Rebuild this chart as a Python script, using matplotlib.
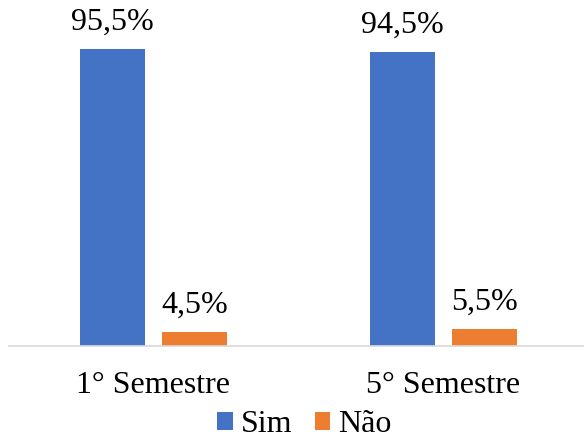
import matplotlib
matplotlib.use('Agg')
from matplotlib import pyplot as plt
import numpy as np

categories = ['1° Semestre', '5° Semestre']
sim = [95.5, 94.5]
nao = [4.5, 5.5]
series_names = ['Sim', 'Não']
colors = ['#4472C4', '#ED7D31']

plt.rcParams['font.family'] = ['Liberation Serif', 'DejaVu Serif']

fig = plt.figure(figsize=(5.84, 4.41), dpi=100)
W, H = 584, 441
# axes in pixels: left 8.5, right 584, bottom baseline at y=346, top at y=0
left_px, right_px, base_px = 8.5, 584, 346
ax = fig.add_axes([left_px / W, (H - base_px) / H, (right_px - left_px) / W, base_px / H])

x = np.arange(len(categories))
width = 0.224
offset = 0.1414
b1 = ax.bar(x - offset, sim, width, color=colors[0], label=series_names[0])
b2 = ax.bar(x + offset, nao, width, color=colors[1], label=series_names[1])

unit = 290.0
ax.set_xlim(-(153.5 - left_px) / unit, (right_px - 153.5) / unit)
ax.set_ylim(0, base_px / (297 / 95.5))

for bars in (b1, b2):
  for rect in bars:
    v = rect.get_height()
    ax.annotate(('%.1f%%' % v).replace('.', ','),
                (rect.get_x() + rect.get_width() / 2, v),
                xytext=(0, 9), textcoords='offset points',
                ha='center', va='bottom', fontsize=23)

for s in ['top', 'right', 'left']:
  ax.spines[s].set_visible(False)
ax.spines['bottom'].set_color('#D9D9D9')
ax.spines['bottom'].set_linewidth(1.2)
ax.set_yticks([])
ax.set_xticks(x)
ax.set_xticklabels(categories, fontsize=23)
ax.tick_params(axis='x', length=0, pad=18)

fig.legend(loc='center', bbox_to_anchor=(0.521, (H - 425) / H), ncol=2, frameon=False,
           fontsize=23, handlelength=0.5, handleheight=0.5, handletextpad=0.25,
           columnspacing=0.7, borderpad=0, borderaxespad=0)

fig.savefig('out.png', dpi=100)
